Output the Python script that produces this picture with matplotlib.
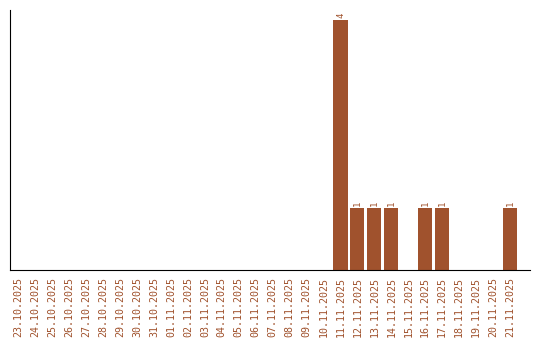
import matplotlib
matplotlib.use("Agg")
import matplotlib.pyplot as plt
import pandas as pd

# daily counts
dates = pd.date_range("2025-10-23", "2025-11-21", freq="D")
labels = [d.strftime("%d.%m.%Y") for d in dates]
nonzero = {"11.11.2025": 4, "12.11.2025": 1, "13.11.2025": 1, "14.11.2025": 1,
           "16.11.2025": 1, "17.11.2025": 1, "21.11.2025": 1}
counts = [nonzero.get(l, 0) for l in labels]

col = "#A0522D"
fig = plt.figure(figsize=(5.4, 3.4), dpi=100)
ax = fig.add_axes([10/540, 70/340, 520/540, 260/340])

x = list(range(len(labels)))
ax.bar(x, counts, width=0.83, color=col)
for xi, c in zip(x, counts):
    if c > 0:
        ax.text(xi, c + 0.03, str(c), rotation=90, ha="center", va="bottom",
                fontsize=6.5, color=col, family="DejaVu Sans Mono")

ax.set_xlim(-0.5, len(labels) + 0.18)
ax.set_ylim(0, 4.16)
ax.set_xticks(x)
ax.set_xticklabels(labels, rotation=90, fontsize=7.2, color=col, family="DejaVu Sans Mono")
ax.tick_params(axis="x", length=0, pad=5)
ax.set_yticks([])
ax.spines["top"].set_visible(False)
ax.spines["right"].set_visible(False)

fig.savefig("out.png", dpi=100)
